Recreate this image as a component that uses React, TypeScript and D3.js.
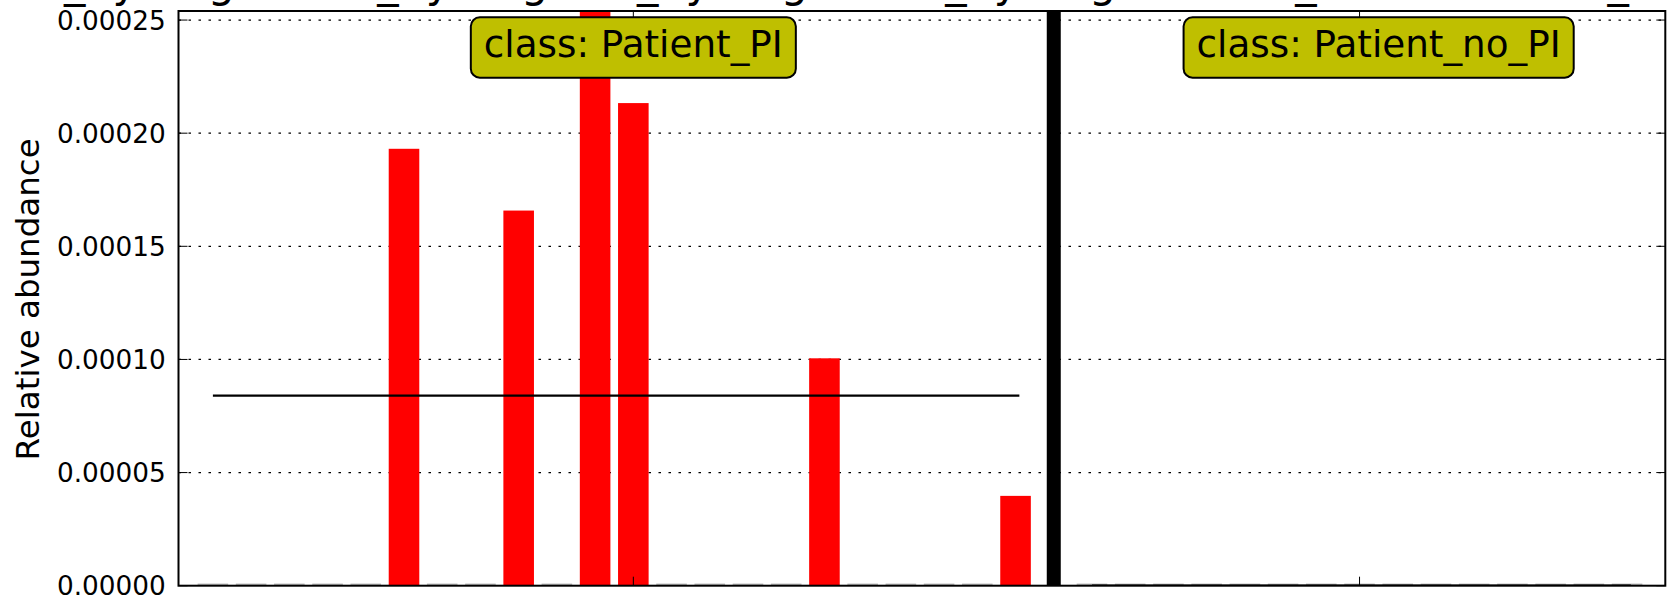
import React, { useEffect, useRef } from "react";
import * as d3 from "d3";

// ---- data ----
const classNames = ["Patient_PI", "Patient_no_PI"];
const patientPIValues = [
  0, 0, 0, 0, 0, 0.0001931, 0, 0, 0.0001658, 0, 0.001135, 0.0002133, 0, 0, 0, 0,
  0.0001005, 0, 0, 0, 0, 0.0000397,
];
const patientNoPIValues = [0, 0, 0, 0, 0, 0, 0, 0, 0, 0, 0, 0, 0, 0, 0];
const yTicks = [0, 0.00005, 0.0001, 0.00015, 0.0002, 0.00025];
const yTickLabels = ["0.00000", "0.00005", "0.00010", "0.00015", "0.00020", "0.00025"];
const yLabel = "Relative abundance";
const yMax = 0.000254;
const titleText =
  "Bacteria_Synergistetes_Synergistia_Synergistales_Synergistaceae_Cloacibacillus_evryensis";

const W = 1667;
const H = 600;
const FONT = "DejaVu Sans";

export default function App() {
  const ref = useRef<SVGSVGElement | null>(null);

  useEffect(() => {
    const svg = d3.select(ref.current);
    svg.selectAll("*").remove();

    const left = 178.5, right = 1665.3, top = 11, bottom = 585.7;
    const barW = 0.8;

    const groups = [patientPIValues, patientNoPIValues];
    const starts: number[] = [];
    let s = 0;
    groups.forEach((g) => {
      starts.push(s);
      s += g.length + 1;
    });
    const lastIdx = starts[starts.length - 1] + groups[groups.length - 1].length - 1;

    const x = d3.scaleLinear().domain([-0.5, lastIdx + 1.4]).range([left, right]);
    const y = d3.scaleLinear().domain([0, yMax]).range([bottom, top]);

    const defs = svg.append("defs");
    defs.append("clipPath").attr("id", "plotclip")
      .append("rect").attr("x", left).attr("y", top)
      .attr("width", right - left).attr("height", bottom - top);

    // title (only descenders visible, as in the reference)
    svg.append("text")
      .attr("x", left - 292).attr("y", -3.4)
      .attr("font-family", FONT).attr("font-size", 42.7)
      .attr("fill", "#000")
      .text(titleText);

    const plot = svg.append("g").attr("clip-path", "url(#plotclip)");

    // grid
    plot.selectAll("line.grid").data(yTicks).enter().append("line")
      .attr("x1", left).attr("x2", right)
      .attr("y1", (d) => y(d)).attr("y2", (d) => y(d))
      .attr("stroke", "#000").attr("stroke-width", 1.2)
      .attr("stroke-dasharray", "2.5,7.5");

    // bars
    groups.forEach((vals, gi) => {
      const st = starts[gi];
      vals.forEach((v, i) => {
        const xi = st + i;
        if (v > 0) {
          plot.append("rect")
            .attr("x", x(xi)).attr("width", x(xi + barW) - x(xi))
            .attr("y", y(v)).attr("height", y(0) - y(v))
            .attr("fill", "#ff0000");
        } else {
          plot.append("line")
            .attr("x1", x(xi)).attr("x2", x(xi + barW))
            .attr("y1", y(0) - 1.5).attr("y2", y(0) - 1.5)
            .attr("stroke", "#9a9a9a").attr("stroke-width", 1);
        }
      });
      const mean = d3.mean(vals) as number;
      plot.append("line")
        .attr("x1", x(st + 0.4)).attr("x2", x(st + vals.length - 0.5))
        .attr("y1", y(mean)).attr("y2", y(mean))
        .attr("stroke", "#000").attr("stroke-width", 2.2);
    });

    // separators
    for (let gi = 0; gi < groups.length - 1; gi++) {
      const sx = x(starts[gi] + groups[gi].length + 0.4);
      svg.append("line")
        .attr("x1", sx).attr("x2", sx).attr("y1", top).attr("y2", bottom)
        .attr("stroke", "#000").attr("stroke-width", 14);
    }

    // spines
    svg.append("rect")
      .attr("x", left).attr("y", top)
      .attr("width", right - left).attr("height", bottom - top)
      .attr("fill", "none").attr("stroke", "#000").attr("stroke-width", 2);

    // y ticks (inward both sides)
    yTicks.forEach((t, i) => {
      const yy = y(t);
      svg.append("line").attr("x1", left).attr("x2", left + 9)
        .attr("y1", yy).attr("y2", yy).attr("stroke", "#000").attr("stroke-width", 1);
      svg.append("line").attr("x1", right).attr("x2", right - 9)
        .attr("y1", yy).attr("y2", yy).attr("stroke", "#000").attr("stroke-width", 1);
      svg.append("text")
        .attr("x", left - 12.8).attr("y", yy).attr("dy", "0.36em")
        .attr("text-anchor", "end")
        .attr("font-family", FONT).attr("font-size", 26.3)
        .attr("fill", "#000")
        .text(yTickLabels[i]);
    });

    // x ticks at class middles
    groups.forEach((vals, gi) => {
      const tx = x(starts[gi] + Math.floor(vals.length / 2) + 0.4);
      svg.append("line").attr("x1", tx).attr("x2", tx)
        .attr("y1", bottom).attr("y2", bottom - 9).attr("stroke", "#000").attr("stroke-width", 1);
      svg.append("line").attr("x1", tx).attr("x2", tx)
        .attr("y1", top).attr("y2", top + 9).attr("stroke", "#000").attr("stroke-width", 1);
    });

    // y label
    svg.append("text")
      .attr("transform", `translate(38.5, ${(top + bottom) / 2 + 1}) rotate(-90)`)
      .attr("text-anchor", "middle")
      .attr("font-family", FONT).attr("font-size", 32.5)
      .attr("fill", "#000")
      .text(yLabel);

    // class labels
    groups.forEach((vals, gi) => {
      const cx = x(starts[gi] + vals.length / 2 + 0.4);
      const g = svg.append("g");
      const txt = g.append("text")
        .attr("x", cx).attr("y", 57.3)
        .attr("text-anchor", "middle")
        .attr("font-family", FONT).attr("font-size", 37.3)
        .attr("fill", "#000")
        .text("class: " + classNames[gi]);
      const bb = (txt.node() as SVGTextElement).getBBox();
      g.insert("rect", "text")
        .attr("x", bb.x - 13).attr("width", bb.width + 26)
        .attr("y", 17.3).attr("height", 60.4)
        .attr("rx", 9).attr("ry", 9)
        .attr("fill", "#bfbf00").attr("stroke", "#000").attr("stroke-width", 2);
    });
  }, []);

  return (
    <svg
      ref={ref}
      width={W}
      height={H}
      style={{ position: "absolute", left: 0, top: 0, background: "#fff" }}
    />
  );
}
